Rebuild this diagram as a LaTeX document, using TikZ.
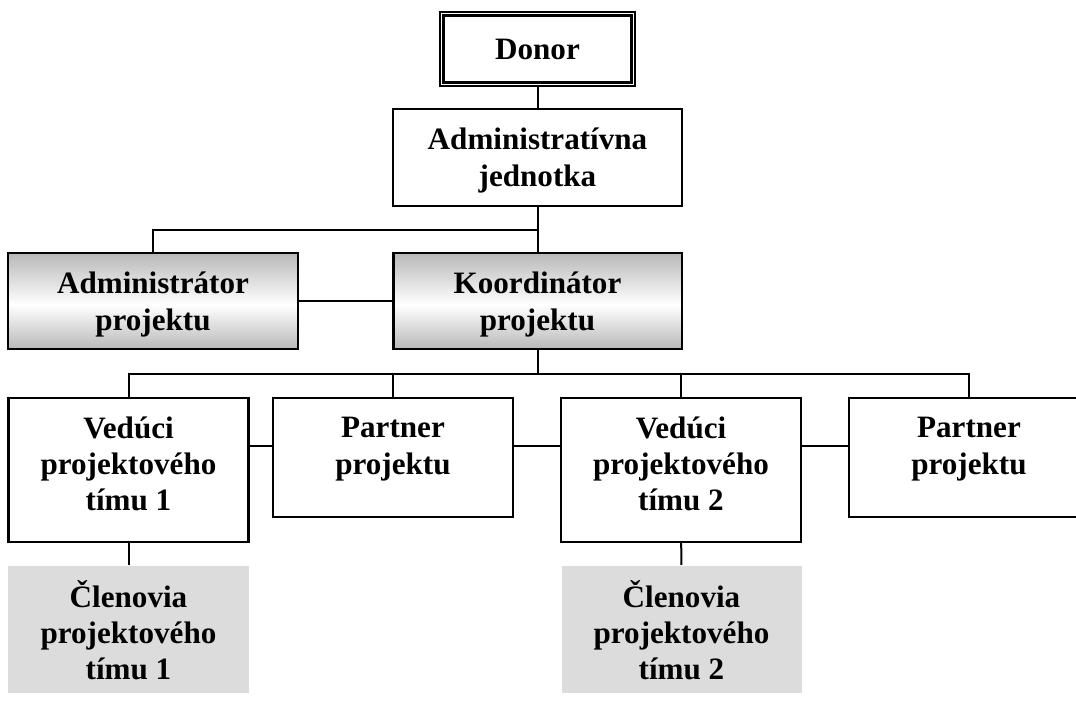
\documentclass[tikz,border=0pt]{standalone}
\usepackage{fontspec}
\setmainfont{Liberation Serif}
\usepackage{xcolor}
\usepackage{tikz}
\usetikzlibrary{positioning}

\definecolor{membergray}{HTML}{DCDCDC}
\definecolor{shadegray}{HTML}{B8B8B8}
\pgfdeclareverticalshading{koordshade}{100bp}{color(0bp)=(shadegray); color(25bp)=(shadegray); color(48bp)=(white); color(75bp)=(shadegray); color(100bp)=(shadegray)}

% text block, first baseline raised by #1 above the box centre
\newcommand{\boxtext}[2]{\raisebox{#1}[0pt][0pt]{\begin{tabular}[t]{@{}c@{}}#2\end{tabular}}}

\begin{document}
\begin{tikzpicture}[
x=0.45pt, y=-0.45pt,
unit/.style={
    rectangle,
    draw,
    line width=1pt,
    fill=white,
    inner sep=0pt,
    font=\fontsize{14}{16.4}\selectfont\bfseries
},
shaded/.style={
    unit,
    line width=1.3pt,
    shading=koordshade
},
members/.style={
    unit,
    draw=none,
    fill=membergray
},
link/.style={line width=0.9pt}
]
\clip (0,0) rectangle (1076,703);
\fill[white] (0,0) rectangle (1076,703);

\node[unit, line width=0.6pt, minimum width=87.75pt, minimum height=33.3pt] (donor) at (537.5,49) {\boxtext{-4.9pt}{Donor}};
\draw[line width=1.4pt] ([xshift=1.8pt,yshift=-2pt]donor.north west) rectangle ([xshift=-1.8pt,yshift=2pt]donor.south east);

\node[unit, minimum width=130pt, minimum height=43.6pt] (adm) at (537.5,157.5) {\boxtext{3.4pt}{Administratívna\\jednotka}};
\node[shaded, minimum width=130.5pt, minimum height=43.2pt] (admp) at (153,301) {\boxtext{3.2pt}{Administrátor\\projektu}};
\node[shaded, minimum width=130pt, minimum height=43.2pt] (koord) at (537.5,301) {\boxtext{3.2pt}{Koordinátor\\projektu}};

\node[unit, minimum width=108pt, minimum height=64.8pt] (ved1) at (128.5,470) {\boxtext{14.4pt}{Vedúci\\projektového\\tímu 1}};
\node[unit, minimum width=108pt, minimum height=53.5pt] (par1) at (393,457.5) {\boxtext{8.8pt}{Partner\\projektu}};
\node[unit, minimum width=108pt, minimum height=64.8pt] (ved2) at (681,470) {\boxtext{14.4pt}{Vedúci\\projektového\\tímu 2}};
\node[unit, minimum width=108pt, minimum height=53.5pt] (par2) at (969,457.5) {\boxtext{8.8pt}{Partner\\projektu}};

\node[members, minimum width=108pt, minimum height=57.2pt] (clen1) at (128.5,629.5) {\boxtext{10.1pt}{Členovia\\projektového\\tímu 1}};
\node[members, minimum width=108pt, minimum height=57.2pt] (clen2) at (681.5,629.5) {\boxtext{10.1pt}{Členovia\\projektového\\tímu 2}};

\coordinate (split) at (537.5,230);
\coordinate (bus) at (537.5,374);

\draw[link] (donor) -- (adm);
\draw[link] (adm) -- (koord);
\draw[link] (admp.north) |- (split);
\draw[link] (admp) -- (koord);
\draw[link] (koord) -- (bus);
\draw[link] (ved1.north) |- (bus) -| (par2.north);
\draw[link] (par1.north) -- (par1.north |- bus);
\draw[link] (ved2.north) -- (ved2.north |- bus);
\draw[link] ([yshift=10.8pt]ved1.east) -- ([yshift=10.8pt]ved1.east -| par1.west);
\draw[link] ([yshift=10.8pt]ved1.east -| par1.east) -- ([yshift=10.8pt]ved1.east -| ved2.west);
\draw[link] ([yshift=10.8pt]ved2.east) -- ([yshift=10.8pt]ved2.east -| par2.west);
\draw[link] (ved1) -- (clen1);
\draw[link] (ved2) -- (clen2);
\end{tikzpicture}
\end{document}
